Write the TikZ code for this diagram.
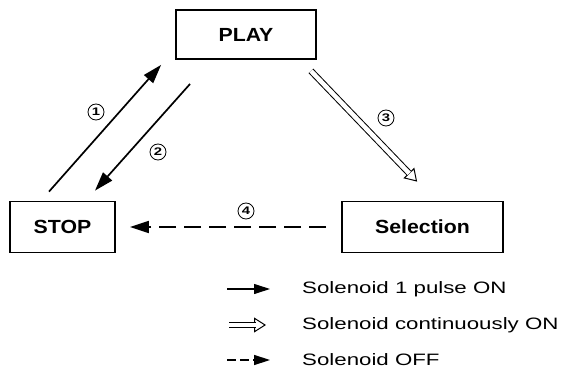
\documentclass[tikz,border=0pt]{standalone}
\usepackage{fontspec}
\usepackage{tikz}
\usetikzlibrary{arrows.meta, calc}
\newfontfamily\statefont{Liberation Sans}[FakeStretch=1.12]
\newfontfamily\keyfont{Liberation Sans}[FakeStretch=1.35]

\tikzset{
    state/.style={draw, line width=1.8pt, inner sep=0pt, font=\statefont\bfseries\fontsize{19}{22}\selectfont},
    stepno/.style={draw, circle, line width=0.8pt, inner sep=0pt, minimum size=16pt, font=\keyfont\bfseries\fontsize{11}{12}\selectfont},
    keytext/.style={anchor=west, inner sep=0pt, font=\keyfont\fontsize{16.5}{18}\selectfont},
    pulse/.style={line width=1.7pt, -{Triangle[length=19pt, width=12pt]}},
    off/.style={pulse, dash pattern=on 17pt off 8pt},
    hollow/.style={double, double distance=4.5pt, line width=1pt},
    hollowtip/.style={line width=1pt, -{Triangle[length=12pt, width=15pt, fill=white]}}
}

\begin{document}
\begin{tikzpicture}[x=1pt, y=-1pt]
    \useasboundingbox (0,0) rectangle (575,374);

    % States
    \node[state, minimum width=140pt, minimum height=49pt] (PLAY) at (246,34.5) {PLAY};
    \node[state, minimum width=105pt, minimum height=51pt] (STOP) at (62.5,227) {STOP};
    \node[state, minimum width=161pt, minimum height=51pt] (Sel) at (422.5,227) {Selection};

    % Transitions 1 and 2
    \draw[pulse] ($(STOP.north)+(-13.5,-9)$) -- ($(PLAY.south west)+(-14,5)$);
    \draw[pulse] ($(PLAY.south west)+(15,24)$) -- ($(STOP.north)+(32.5,-10)$);

    % Transition 3
    \coordinate (a3) at ($(PLAY.south east)+(-6,11)$);
    \coordinate (b3) at ($(Sel.north west)+(76,-19)$);
    \draw[hollowtip] ($(b3)!12pt!(a3)$) -- (b3);
    \draw[hollow, shorten >=11.4pt] (a3) -- (b3);

    % Transition 4
    \draw[off] ($(Sel.west)+(-15,0)$) -- ($(STOP.east)+(14,0)$);

    % Step numbers
    \node[stepno] (n1) at (96,112) {1};
    \node[stepno] (n2) at (158,152) {2};
    \node[stepno] (n3) at (386,118) {3};
    \node[stepno] (n4) at (246,211) {4};

    % Key
    \coordinate (k1) at (227,289);
    \coordinate (k1e) at (270,289);
    \draw[line width=1.1pt, -{Triangle[length=16pt, width=10pt]}] (k1) -- (k1e);
    \node[keytext] (t1) at (302,289) {Solenoid 1 pulse ON};

    \coordinate (k2) at (229,325);
    \coordinate (k2e) at (266,325);
    \draw[hollowtip] ($(k2e)!11pt!(k2)$) -- (k2e);
    \draw[hollow, shorten >=10.4pt] (k2) -- (k2e);
    \node[keytext] (t2) at (302,325) {Solenoid continuously ON};

    \coordinate (k3) at (227,360);
    \coordinate (k3e) at (270,360);
    \draw[line width=1.4pt, dash pattern=on 9pt off 4pt, -{Triangle[length=16pt, width=10pt]}] (k3) -- (k3e);
    \node[keytext] (t3) at (302,360) {Solenoid OFF};
\end{tikzpicture}
\end{document}
